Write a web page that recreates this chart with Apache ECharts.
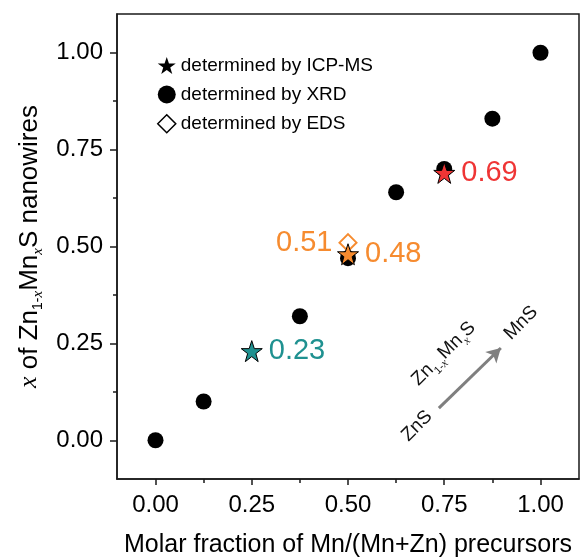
<!DOCTYPE html>
<html>
<head>
<meta charset="utf-8">
<title>ZnMnS composition</title>
<script src="https://cdn.jsdelivr.net/npm/echarts@6/dist/echarts.min.js"></script>
<style>
  html, body { margin: 0; padding: 0; background: #fff; }
  #chart { width: 582px; height: 557px; }
</style>
</head>
<body>
<div id="chart"></div>
<script>
// precursor fraction vs. measured x
var xrdX = [0, 0.125, 0.375, 0.5, 0.625, 0.75, 0.875, 1.0];
var xrdY = [0, 0.10, 0.32, 0.47, 0.64, 0.70, 0.83, 1.00];

var icpX = [0.25, 0.5, 0.75];
var icpY = [0.23, 0.48, 0.69];
var icpColors = ['#1f9190', '#f68b2f', '#ef3535'];

var edsX = [0.5];
var edsY = [0.51];

var majorTicks = [0, 0.25, 0.5, 0.75, 1.0];
var minorTicks = [0.125, 0.375, 0.625, 0.875];

// arrow ZnS -> MnS (data coords)
var arrowFrom = [0.736, 0.083];
var arrowTo = [0.897, 0.238];

var STAR = 'path://M50,0 L61.8,35.1 L98.1,35.1 L68.8,56.8 L79.4,91.9 L50,70 L20.6,91.9 L31.2,56.8 L1.9,35.1 L38.2,35.1 Z';
var FONT = 'Liberation Sans, Arial, sans-serif';

var subRich = {
  i: { fontStyle: 'italic', fontFamily: 'Liberation Serif, serif', fontSize: 26, lineHeight: 27, verticalAlign: 'top' },
  n: { fontSize: 26, lineHeight: 27, verticalAlign: 'top', fontFamily: FONT },
  sub: { fontSize: 14, lineHeight: 14, padding: [15, 0, 0, 0], verticalAlign: 'top', fontFamily: FONT },
  subi: { fontSize: 15, lineHeight: 15, padding: [14, 0, 0, 0], verticalAlign: 'top', fontStyle: 'italic', fontFamily: 'Liberation Serif, serif' }
};

function fmt(v) { return v.toFixed(2); }

var myChart = echarts.init(document.getElementById('chart'));

var icpData = icpX.map(function (x, i) {
  return {
    value: [x, icpY[i]],
    itemStyle: { color: icpColors[i] },
    label: { color: icpColors[i] }
  };
});

var edsData = edsX.map(function (x, i) {
  return { value: [x, edsY[i]] };
});

var xrdData = xrdX.map(function (x, i) { return [x, xrdY[i]]; });

var option = {
  backgroundColor: '#fff',
  animation: false,
  textStyle: { fontFamily: FONT },
  grid: {
    left: 117, right: 3, top: 14, bottom: 78,
    show: true, borderColor: '#1a1a1a', borderWidth: 1.5,
    containLabel: false,
    outerBoundsMode: 'none'
  },
  legend: {
    orient: 'vertical',
    left: 152, top: 51,
    itemWidth: 18, itemHeight: 18, itemGap: 10,
    textStyle: { fontSize: 19, color: '#000', fontFamily: FONT },
    data: [
      { name: 'determined by ICP-MS', icon: STAR, itemStyle: { color: '#000', borderWidth: 0 } },
      { name: 'determined by XRD', icon: 'circle', itemStyle: { color: '#000' } },
      { name: 'determined by EDS', icon: 'diamond', itemStyle: { color: '#fff', borderColor: '#000', borderWidth: 1.5 } }
    ]
  },
  xAxis: [{
    type: 'value', min: -0.1, max: 1.1,
    name: 'Molar fraction of Mn/(Mn+Zn) precursors',
    nameLocation: 'middle', nameGap: 54,
    nameTextStyle: { fontSize: 25, color: '#000', fontFamily: FONT },
    axisLine: { show: true, onZero: false, lineStyle: { color: '#1a1a1a', width: 1.5 } },
    axisTick: { show: true, inside: false, length: 6, customValues: majorTicks, lineStyle: { color: '#1a1a1a', width: 1.5 } },
    axisLabel: { customValues: majorTicks, formatter: fmt, fontSize: 24, color: '#000', margin: 14 },
    splitLine: { show: false }
  }, {
    type: 'value', min: -0.1, max: 1.1, position: 'bottom',
    axisLine: { show: false, onZero: false },
    axisTick: { show: true, length: 4, customValues: minorTicks, lineStyle: { color: '#1a1a1a', width: 1.5 } },
    axisLabel: { show: false },
    splitLine: { show: false }
  }],
  yAxis: [{
    type: 'value', min: -0.1, max: 1.1,
    name: '{i|x}{n| of Zn}{sub|1-}{subi|x}{n|Mn}{subi|x}{n|S nanowires}',
    nameLocation: 'middle', nameGap: 70, nameRotate: 90,
    nameTextStyle: { color: '#000', rich: subRich },
    axisLine: { show: true, onZero: false, lineStyle: { color: '#1a1a1a', width: 1.5 } },
    axisTick: { show: true, length: 7, customValues: majorTicks, lineStyle: { color: '#1a1a1a', width: 1.5 } },
    axisLabel: { customValues: majorTicks, formatter: fmt, fontSize: 24, color: '#000', margin: 14 },
    splitLine: { show: false }
  }, {
    type: 'value', min: -0.1, max: 1.1, position: 'left',
    axisLine: { show: false, onZero: false },
    axisTick: { show: true, length: 4, customValues: minorTicks, lineStyle: { color: '#1a1a1a', width: 1.5 } },
    axisLabel: { show: false },
    splitLine: { show: false }
  }],
  series: [{
    name: 'determined by XRD',
    type: 'scatter',
    data: xrdData,
    symbol: 'circle',
    symbolSize: 16,
    itemStyle: { color: '#000', opacity: 1 },
    z: 2,
    markLine: {
      silent: true,
      symbol: ['none', 'arrow'],
      symbolSize: [12, 14],
      label: { show: false },
      lineStyle: { color: '#7f7f7f', width: 3, type: 'solid' },
      data: [[{ coord: arrowFrom }, { coord: arrowTo }]]
    }
  }, {
    name: 'determined by EDS',
    type: 'scatter',
    data: edsData,
    symbol: 'diamond',
    symbolSize: 17,
    itemStyle: { color: '#fff', borderColor: '#f68b2f', borderWidth: 2, opacity: 1 },
    label: { show: true, position: 'left', distance: 6, formatter: function (p) { return fmt(p.value[1]); }, fontSize: 29, color: '#f68b2f' },
    z: 3
  }, {
    name: 'determined by ICP-MS',
    type: 'scatter',
    data: icpData,
    symbol: STAR,
    symbolSize: 21,
    itemStyle: { borderColor: '#000', borderWidth: 1, opacity: 1 },
    label: { show: true, position: 'right', distance: 6, formatter: function (p) { return fmt(p.value[1]); }, fontSize: 29 },
    z: 4
  }],
  graphic: [
    { type: 'text', x: 417, y: 426, rotation: Math.PI / 4,
      style: { text: 'ZnS', fontSize: 19, fill: '#111', align: 'center', verticalAlign: 'middle', fontFamily: FONT } },
    { type: 'text', x: 521, y: 323, rotation: Math.PI / 4,
      style: { text: 'MnS', fontSize: 19, fill: '#111', align: 'center', verticalAlign: 'middle', fontFamily: FONT } },
    { type: 'text', x: 444, y: 354, rotation: Math.PI / 4,
      style: {
        text: '{n|Zn}{sub|1-}{subi|x}{n|Mn}{subi|x}{n|S}', align: 'center', verticalAlign: 'middle', fill: '#111',
        rich: {
          n: { fontSize: 19, lineHeight: 20, verticalAlign: 'top', fontFamily: FONT },
          sub: { fontSize: 11, lineHeight: 11, padding: [12, 0, 0, 0], verticalAlign: 'top', fontFamily: FONT },
          subi: { fontSize: 12, lineHeight: 12, padding: [11, 0, 0, 0], verticalAlign: 'top', fontStyle: 'italic', fontFamily: 'Liberation Serif, serif' }
        }
      } }
  ]
};

myChart.setOption(option);
</script>
</body>
</html>
